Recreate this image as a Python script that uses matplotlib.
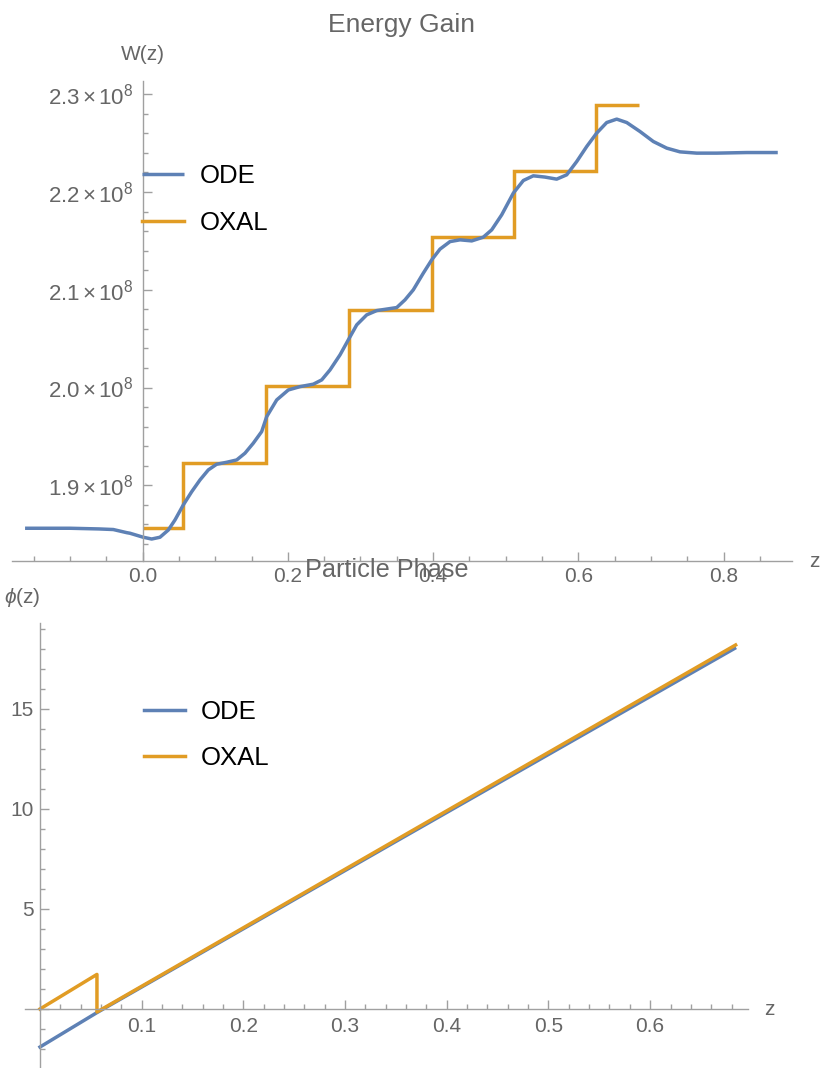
import matplotlib
matplotlib.use('Agg')
import matplotlib.pyplot as plt
from matplotlib.ticker import MultipleLocator, FuncFormatter

plt.rcParams['font.family'] = ['Liberation Sans', 'DejaVu Sans']
plt.rcParams['mathtext.fontset'] = 'custom'
plt.rcParams['mathtext.rm'] = 'Liberation Sans'
plt.rcParams['mathtext.it'] = 'Liberation Sans:italic'

# ---------------- data: Energy Gain ----------------
z_ode_W = [-0.162, -0.100, -0.060, -0.0405, -0.022, -0.0175, 0.0008, 0.0124,
           0.0238, 0.0353, 0.0445, 0.0559, 0.0675, 0.0789, 0.0904, 0.1019,
           0.1157, 0.1295, 0.1409, 0.1523, 0.1639, 0.1708, 0.1846, 0.2006,
           0.2167, 0.2350, 0.2466, 0.2580, 0.2718, 0.2832, 0.2948, 0.3085,
           0.3223, 0.3499, 0.3613, 0.3727, 0.3865, 0.3981, 0.4095, 0.4233,
           0.4371, 0.4532, 0.4691, 0.4807, 0.4945, 0.5105, 0.5243, 0.5380,
           0.5541, 0.5702, 0.5840, 0.5978, 0.6116, 0.6253, 0.6391, 0.6529,
           0.6667, 0.6850, 0.7033, 0.7218, 0.7401, 0.7631, 0.7906, 0.8320,
           0.8747]
W_ode = [1.8560e8, 1.8560e8, 1.8553e8, 1.8547e8, 1.8515e8, 1.8509e8, 1.8468e8,
         1.8450e8, 1.8468e8, 1.8542e8, 1.8645e8, 1.8798e8, 1.8934e8, 1.9054e8,
         1.9157e8, 1.9215e8, 1.9235e8, 1.9259e8, 1.9328e8, 1.9430e8, 1.9549e8,
         1.9702e8, 1.9873e8, 1.9975e8, 2.0009e8, 2.0034e8, 2.0078e8, 2.0180e8,
         2.0334e8, 2.0487e8, 2.0641e8, 2.0743e8, 2.0787e8, 2.0818e8, 2.0897e8,
         2.0999e8, 2.1170e8, 2.1306e8, 2.1416e8, 2.1493e8, 2.1511e8, 2.1500e8,
         2.1538e8, 2.1613e8, 2.1767e8, 2.1989e8, 2.2118e8, 2.2166e8, 2.2153e8,
         2.2132e8, 2.2176e8, 2.2312e8, 2.2466e8, 2.2603e8, 2.2711e8, 2.2746e8,
         2.2711e8, 2.2619e8, 2.2517e8, 2.2449e8, 2.2411e8, 2.2398e8, 2.2398e8,
         2.2404e8, 2.2404e8]
z_oxal_edges = [0.0, 0.0555, 0.170, 0.284, 0.398, 0.511, 0.625, 0.684]
W_oxal = [1.856e8, 1.923e8, 2.0014e8, 2.079e8, 2.154e8, 2.222e8, 2.289e8]

# ---------------- data: Particle Phase ----------------
z_ode_phi = [0.0, 0.056, 0.35, 0.683]
phi_ode = [-1.9, -0.18, 8.38, 18.03]
z_oxal_phi = [0.0, 0.056, 0.056, 0.35, 0.684]
phi_oxal = [0.0, 1.73, -0.15, 8.45, 18.2]

labels = ['ODE', 'OXAL']
C_ODE = '#5E81B5'
C_OXAL = '#E19C24'
GRAY_AX = '#a0a0a0'
GRAY_TXT = '#666666'
LW = 2.5

W_PX, H_PX = 823, 1068
fig = plt.figure(figsize=(W_PX / 100, H_PX / 100), dpi=100)


def px_rect(x0, y_top, x1, y_bot):
    return [x0 / W_PX, 1 - y_bot / H_PX, (x1 - x0) / W_PX, (y_bot - y_top) / H_PX]


def style(ax):
    for s in ['top', 'right']:
        ax.spines[s].set_visible(False)
    for s in ['left', 'bottom']:
        ax.spines[s].set_color(GRAY_AX)
        ax.spines[s].set_linewidth(1.0)
    ax.tick_params(which='both', direction='in', color=GRAY_AX, width=1.0,
                   labelcolor=GRAY_TXT, labelsize=15)
    ax.tick_params(which='major', length=6.2)
    ax.tick_params(which='minor', length=3.6)
    ax.patch.set_alpha(0)


# ---------------- top axes ----------------
ax1 = fig.add_axes(px_rect(11.7, 81, 791.7, 561))
ax1.plot(z_ode_W, W_ode, color=C_ODE, lw=LW, label=labels[0],
         solid_joinstyle='round', solid_capstyle='butt')
ax1.stairs(W_oxal, z_oxal_edges, baseline=None, color=C_OXAL, lw=LW, label=labels[1])
ax1.set_xlim(-0.1804, 0.8939)
ax1.set_ylim(1.8225e8, 2.3136e8)
style(ax1)
ax1.spines['left'].set_position(('data', 0))
ax1.xaxis.set_major_locator(MultipleLocator(0.2))
ax1.xaxis.set_minor_locator(MultipleLocator(0.05))
ax1.yaxis.set_major_locator(MultipleLocator(1e7))
ax1.yaxis.set_minor_locator(MultipleLocator(2e6))
ax1.xaxis.set_major_formatter(FuncFormatter(lambda v, p: f'{v:.1f}'))
ax1.yaxis.set_major_formatter(FuncFormatter(
    lambda v, p: r'$\mathregular{%.1f\,{\times}\,10^{8}}$' % (v / 1e8)))
ax1.tick_params(axis='x', pad=4.5)
ax1.tick_params(axis='y', pad=7, labelsize=16)
ax1.legend(loc='center left', bbox_to_anchor=(141.7 / W_PX, 1 - 199.2 / H_PX),
           bbox_transform=fig.transFigure, frameon=False, fontsize=18.5,
           handlelength=1.63, handletextpad=0.62, labelspacing=0.91,
           borderpad=0, borderaxespad=0)

# ---------------- bottom axes ----------------
ax2 = fig.add_axes(px_rect(25, 623.3, 747.7, 1068))
ax2.plot(z_ode_phi, phi_ode, color=C_ODE, lw=LW, label=labels[0])
ax2.plot(z_oxal_phi, phi_oxal, color=C_OXAL, lw=LW, label=labels[1])
ax2.set_xlim(-0.01475, 0.6959)
ax2.set_ylim(-2.95, 19.285)
style(ax2)
ax2.spines['left'].set_position(('data', 0))
ax2.spines['bottom'].set_position(('data', 0))
ax2.xaxis.set_major_locator(MultipleLocator(0.1))
ax2.xaxis.set_minor_locator(MultipleLocator(0.02))
ax2.yaxis.set_major_locator(MultipleLocator(5))
ax2.yaxis.set_minor_locator(MultipleLocator(1))
ax2.xaxis.set_major_formatter(FuncFormatter(lambda v, p: '' if abs(v) < 1e-9 else f'{v:.1f}'))
ax2.yaxis.set_major_formatter(FuncFormatter(lambda v, p: '' if abs(v) < 1e-9 else f'{v:.0f}'))
ax2.tick_params(axis='x', pad=6)
ax2.tick_params(axis='y', pad=4.5)
ax2.legend(loc='center left', bbox_to_anchor=(144 / W_PX, 1 - 735 / H_PX),
           bbox_transform=fig.transFigure, frameon=False, fontsize=18.5,
           handlelength=1.6, handletextpad=0.6, labelspacing=0.89,
           borderpad=0, borderaxespad=0)

# ---------------- titles and axis labels ----------------
def ftext(x, y, s, **kw):
    fig.text(x / W_PX, 1 - y / H_PX, s, color=GRAY_TXT, va='baseline', **kw)

ftext(402, 31.7, 'Energy Gain', ha='center', fontsize=19)
ftext(143, 60, 'W(z)', ha='center', fontsize=15)
ftext(809, 566.7, 'z', ha='left', fontsize=15)
ftext(387, 577, 'Particle Phase', ha='center', fontsize=18.2)
ftext(4, 603, r'$\phi$(z)', ha='left', fontsize=15)
ftext(764, 1015, 'z', ha='left', fontsize=15)

fig.savefig('out.png', dpi=100)
